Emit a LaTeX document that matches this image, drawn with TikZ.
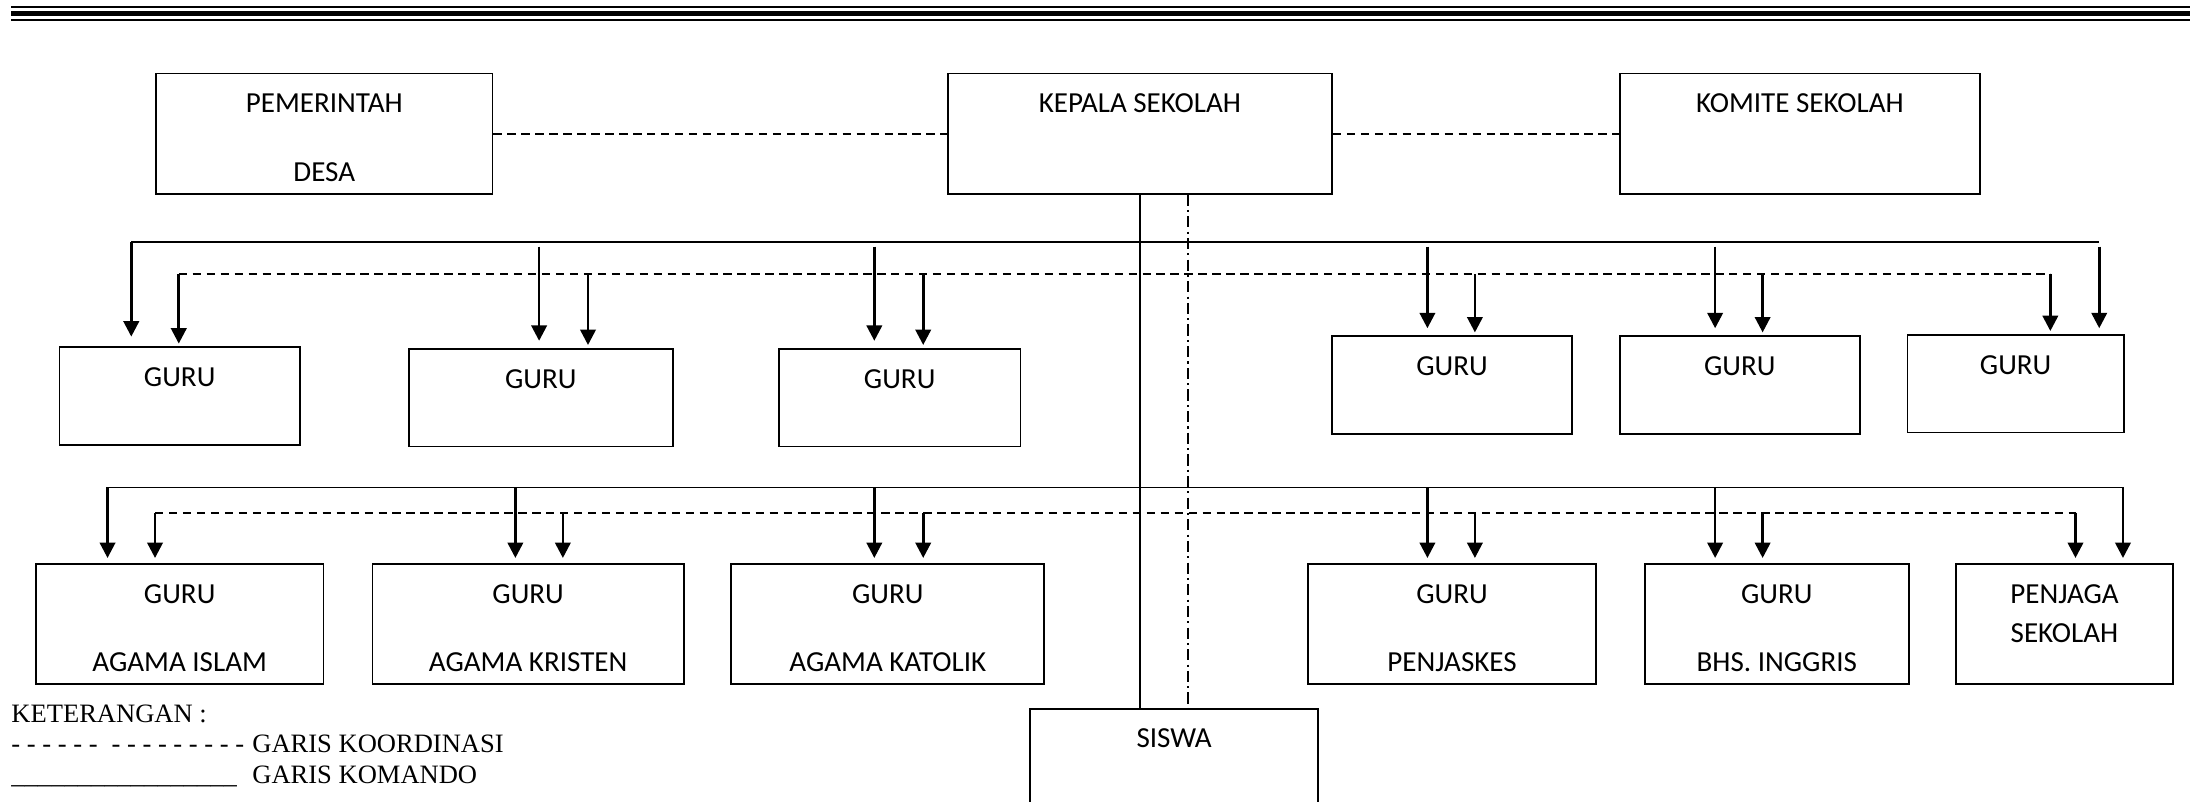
\documentclass[tikz,border=0pt]{standalone}
\usepackage{fontspec}
\setmainfont{Carlito}
\newfontfamily\legendfont{Liberation Serif}
\usetikzlibrary{arrows.meta,calc}
\begin{document}
\begin{tikzpicture}[x=1pt,y=1pt,
  box/.style={draw, line width=1.3pt, inner sep=0pt, anchor=north west},
  lbl/.style={font=\fontsize{20.8}{25}\selectfont, anchor=base, inner sep=0pt},
  leg/.style={font=\legendfont\fontsize{19}{22}\selectfont, anchor=base west, inner sep=0pt},
  bus/.style={line width=1.3pt},
  coordline/.style={line width=1.3pt, dash pattern=on 6pt off 4pt},
  dashdotline/.style={line width=1.5pt, dash pattern=on 8pt off 3pt on 1.5pt off 3pt},
  arr/.style={line width=1.9pt, -{Triangle[width=11pt,length=11pt]}},
]
\useasboundingbox (0,0) rectangle (1568,-574);
\clip (0,0) rectangle (1568,-574);

% top triple rule
\draw[line width=1.4pt] (8,-4.8) -- (1568,-4.8);
\draw[line width=3.8pt] (8,-9.8) -- (1568,-9.8);
\draw[line width=1.7pt] (8,-14.4) -- (1568,-14.4);

% top row
\node[box, minimum width=241pt, minimum height=86pt] (pd) at (111,-52) {};
\node[box, minimum width=275pt, minimum height=86pt] (ks) at (678,-52) {};
\node[box, minimum width=258pt, minimum height=86pt] (km) at (1159,-52) {};
\node[lbl] (pdt1) at ($(pd.north)+(0,-28.4)$) {PEMERINTAH};
\node[lbl] (pdt2) at ($(pd.north)+(0,-77.6)$) {DESA};
\node[lbl] (kst) at ($(ks.north)+(0,-28.4)$) {KEPALA SEKOLAH};
\node[lbl] (kmt) at ($(km.north)+(0,-28.4)$) {KOMITE SEKOLAH};
\draw[coordline] (pd.east) -- (ks.west);
\draw[coordline] (ks.east) -- (km.west);

% row 1 guru
\node[box, minimum width=172pt, minimum height=70pt] (g1) at (42,-248) {};
\node[box, minimum width=189pt, minimum height=70pt] (g2) at (292,-249) {};
\node[box, minimum width=173pt, minimum height=70pt] (g3) at (557,-249) {};
\node[box, minimum width=172pt, minimum height=70pt] (g4) at (953,-240) {};
\node[box, minimum width=172pt, minimum height=70pt] (g5) at (1159,-240) {};
\node[box, minimum width=155pt, minimum height=70pt] (g6) at (1365,-239) {};
\foreach \n in {g1,g2,g3,g4,g5,g6}
  \node[lbl] (\n t) at ($(\n.north)+(0,-28.9)$) {GURU};

% row 2
\node[box, minimum width=206pt, minimum height=86pt] (ai) at (25,-403) {};
\node[box, minimum width=223pt, minimum height=86pt] (ak) at (266,-403) {};
\node[box, minimum width=224pt, minimum height=86pt] (akt) at (523,-403) {};
\node[box, minimum width=206pt, minimum height=86pt] (pj) at (936,-403) {};
\node[box, minimum width=189pt, minimum height=86pt] (bi) at (1177,-403) {};
\node[box, minimum width=155pt, minimum height=86pt] (ps) at (1400,-403) {};
\foreach \n/\t in {ai/AGAMA ISLAM,ak/AGAMA KRISTEN,akt/AGAMA KATOLIK,pj/PENJASKES,bi/BHS. INGGRIS}{
  \node[lbl] (\n t1) at ($(\n.north)+(0,-29.2)$) {GURU};
  \node[lbl] (\n t2) at ($(\n.north)+(0,-77.5)$) {\t};
}
\node[lbl] (pst1) at ($(ps.north)+(0,-29.2)$) {PENJAGA};
\node[lbl] (pst2) at ($(ps.north)+(0,-57)$) {SEKOLAH};

% siswa
\node[box, minimum width=206pt, minimum height=120pt] (sw) at (737,-507) {};
\node[lbl] (swt) at ($(sw.north)+(0,-28)$) {SISWA};

% lines from kepala sekolah to siswa
\coordinate (vs) at (ks.south);
\coordinate (vd) at ($(ks.south)+(34.5,0)$);
\draw[bus] (vs) -- (vs |- sw.north);
\draw[dashdotline] (vd) -- (vd |- sw.north);

% row 1 buses
\coordinate (s1a) at (94,-173);  \coordinate (s1b) at (386,-173);
\coordinate (s1c) at (626,-173); \coordinate (s1d) at (1022,-173);
\coordinate (s1e) at (1228,-173);\coordinate (s1f) at (1503,-173);
\coordinate (d1a) at (128,-196); \coordinate (d1b) at (421,-196);
\coordinate (d1c) at (661,-196); \coordinate (d1d) at (1056,-196);
\coordinate (d1e) at (1262,-196);\coordinate (d1f) at (1468,-196);
\draw[bus] (s1a) -- (s1f);
\draw[coordline] (d1a) -- (d1f);
\draw[arr] (s1a) -- ($(g1.north -| s1a)+(0,7)$);
\foreach \s/\g in {s1b/g2,s1c/g3,s1d/g4,s1e/g5}
  \draw[arr] ($(\s)+(0,-3.5)$) -- ($(\g.north -| \s)+(0,5)$);
\draw[arr] ($(s1f)+(0,-3.5)$) -- ($(g6.north -| s1f)+(0,4)$);
\foreach \d/\g in {d1a/g1,d1b/g2,d1c/g3,d1d/g4,d1e/g5,d1f/g6}
  \draw[arr] (\d) -- ($(\g.north -| \d)+(0,2)$);

% row 2 buses
\coordinate (s2a) at (77,-349);  \coordinate (s2b) at (369,-349);
\coordinate (s2c) at (626,-349); \coordinate (s2d) at (1022,-349);
\coordinate (s2e) at (1228,-349);\coordinate (s2f) at (1520,-349);
\coordinate (d2a) at (111,-367); \coordinate (d2b) at (403,-367);
\coordinate (d2c) at (661,-367); \coordinate (d2d) at (1056,-367);
\coordinate (d2e) at (1262,-367);\coordinate (d2f) at (1486,-367);
\draw[bus] (s2a) -- (s2f);
\draw[coordline] (d2a) -- (d2f);
\foreach \s/\g in {s2a/ai,s2b/ak,s2c/akt,s2d/pj,s2e/bi,s2f/ps}
  \draw[arr] (\s) -- ($(\g.north -| \s)+(0,3.5)$);
\foreach \d/\g in {d2a/ai,d2b/ak,d2c/akt,d2d/pj,d2e/bi,d2f/ps}
  \draw[arr] (\d) -- ($(\g.north -| \d)+(0,3.5)$);

% legend
\node[leg] (k1) at (8,-517) {KETERANGAN :};
\node[leg] (k2) at (8,-539) {\makebox[172.5pt][l]{- - - - - -\hspace{10pt}- - - - - - - - -}GARIS KOORDINASI};
\node[leg] (k3) at (8,-561) {\makebox[172.5pt][l]{\_\_\_\_\_\_\_\_\_\_\_\_\_\_\_\_\_}GARIS KOMANDO};
\end{tikzpicture}
\end{document}
